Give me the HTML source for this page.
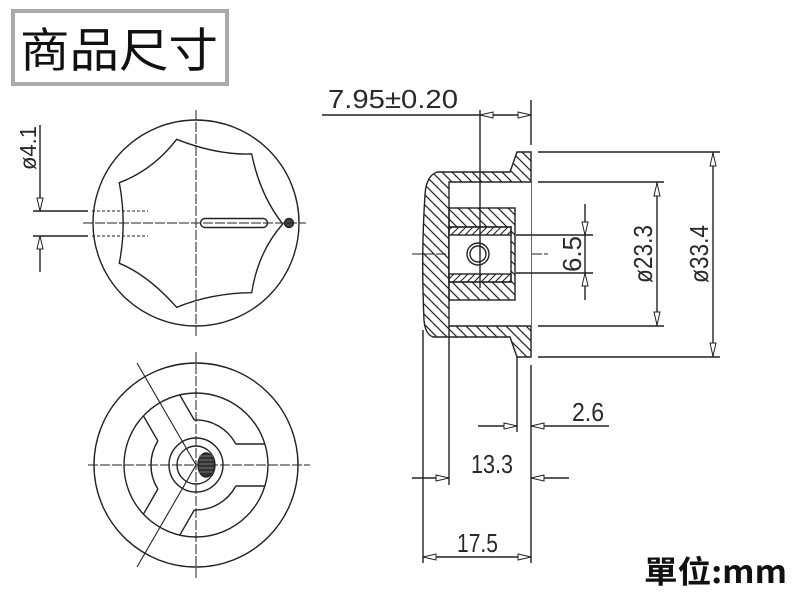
<!DOCTYPE html>
<html><head><meta charset="utf-8"><style>
html,body{margin:0;padding:0;background:#fff;}
svg{display:block;}
.t{font-family:"Liberation Sans",sans-serif;fill:#2a2a2a;}
</style></head><body>
<svg width="800" height="600" viewBox="0 0 800 600" xmlns="http://www.w3.org/2000/svg">
<defs>
<pattern id="h" patternUnits="userSpaceOnUse" width="10" height="10"><path d="M-2,-2 L12,12 M-2,8 L2,12 M8,-2 L12,2" stroke="#222" stroke-width="1.2"/></pattern>
<pattern id="h2" patternUnits="userSpaceOnUse" width="7" height="7"><path d="M-2,9 L9,-2 M-2,2 L2,-2 M5,9 L9,5" stroke="#222" stroke-width="1.1"/></pattern>
</defs>
<rect width="800" height="600" fill="#fff"/>
<rect x="13" y="11" width="214" height="73" fill="#fff" stroke="#aaa" stroke-width="4"/>
<text x="20" y="67" font-size="47" font-family="'Noto Sans CJK TC','Noto Sans CJK SC',sans-serif" fill="#111" textLength="198" lengthAdjust="spacingAndGlyphs">商品尺寸</text>
<text x="644" y="583" font-size="31" font-family="'Noto Sans CJK TC','Noto Sans CJK SC',sans-serif" font-weight="bold" fill="#111" textLength="143" lengthAdjust="spacingAndGlyphs">單位:mm</text>

<g fill="none" stroke="#222" stroke-width="1.4">
<circle cx="196" cy="223" r="103"/>
<path d="M176.7,139.3 Q216,155 251.7,154 Q260,195 282.7,224 Q258,252 251.7,292.7 Q212,293 176.7,307.3 Q148,275 119.3,263.3 Q127,223 119.3,182.7 Q153,170 176.7,139.3 Z"/>
<rect x="200.5" y="218.5" width="67" height="9" rx="4.5"/>
<circle cx="289" cy="223" r="4.5" fill="#444"/>
<g stroke-dasharray="10,2" stroke-width="1">
<line x1="196" y1="110" x2="196" y2="336"/>
<line x1="83" y1="223" x2="306" y2="223"/>
<line x1="196" y1="352" x2="196" y2="580"/>
<line x1="88" y1="465" x2="310" y2="465"/>
<line x1="412" y1="254" x2="548" y2="254"/>
<line x1="92" y1="211" x2="148" y2="211" stroke-dasharray="3,2"/>
<line x1="92" y1="236" x2="148" y2="236" stroke-dasharray="3,2"/>
</g>
<line x1="33" y1="211" x2="88" y2="211"/>
<line x1="33" y1="236" x2="88" y2="236"/>
<line x1="40" y1="125" x2="40" y2="211"/>
<line x1="40" y1="236" x2="40" y2="272"/>
<polygon points="40,211 37,198 43,198" fill="#fff" stroke-width="1"/>
<polygon points="40,236 37,249 43,249" fill="#fff" stroke-width="1"/>

<circle cx="196" cy="465" r="102"/>
<circle cx="196" cy="465" r="72"/>
<circle cx="196" cy="465" r="27"/>
<circle cx="196" cy="465" r="19"/>
<path d="M235.8,444 L264.9,444 M235.8,486 L264.9,486 M194.3,420 L179.7,394.8 M157.9,441 L143.4,415.8 M194.3,510 L179.7,535.2 M157.9,489 L143.4,514.2"/>
<path d="M235.8,444 A45,45 0 0 0 194.3,420 M157.9,441 A45,45 0 0 0 157.9,489 M194.3,510 A45,45 0 0 0 235.8,486"/>
<line x1="196" y1="465" x2="137" y2="363" stroke-width="1.1"/>
<line x1="196" y1="465" x2="137" y2="567" stroke-width="1.1"/>
<ellipse cx="206" cy="465" rx="8" ry="12" fill="#333"/>
<path d="M199,456 h14 M199,460 h15 M199,464 h15 M199,468 h15 M199,472 h14" stroke="#888" stroke-width="0.8"/>

<path d="M437,172 L510,172 L517,152 L531,152 L531,357 L517,357 L510,337 L433,337 Q425,334 424,320 Q421,254 425,195 Q426,176 437,172 Z" fill="url(#h)"/>
<rect x="449" y="182" width="82" height="144" fill="#fff" stroke="none"/>
<path d="M531,182 L449,182 L449,326 L531,326"/>
<rect x="449" y="208" width="66" height="92" fill="url(#h)"/>
<rect x="449" y="227" width="62" height="55" fill="#fff"/>
<rect x="449" y="227" width="62" height="8" fill="url(#h2)"/>
<rect x="449" y="274" width="62" height="8" fill="url(#h2)"/>
<circle cx="478" cy="254" r="11"/>
<circle cx="478" cy="254" r="8"/>
<line x1="531" y1="100" x2="531" y2="145"/>
<line x1="531" y1="365" x2="531" y2="563"/>
<line x1="480" y1="110" x2="480" y2="288"/>
<line x1="423" y1="330" x2="423" y2="563"/>
<line x1="449" y1="326" x2="449" y2="485"/>
<line x1="517" y1="357" x2="517" y2="432"/>

<line x1="322" y1="115" x2="531" y2="115"/>
<polygon points="480,115 493,112 493,118" fill="#fff" stroke-width="1"/>
<polygon points="531,115 518,112 518,118" fill="#fff" stroke-width="1"/>
<line x1="538" y1="182" x2="664" y2="182"/>
<line x1="538" y1="326" x2="664" y2="326"/>
<line x1="657" y1="182" x2="657" y2="326"/>
<polygon points="657,183 654,196 660,196" fill="#fff" stroke-width="1"/>
<polygon points="657,325 654,312 660,312" fill="#fff" stroke-width="1"/>
<line x1="538" y1="152" x2="720" y2="152"/>
<line x1="538" y1="357" x2="720" y2="357"/>
<line x1="713" y1="152" x2="713" y2="357"/>
<polygon points="713,153 710,166 716,166" fill="#fff" stroke-width="1"/>
<polygon points="713,356 710,343 716,343" fill="#fff" stroke-width="1"/>
<line x1="516" y1="235" x2="593" y2="235"/>
<line x1="516" y1="273" x2="593" y2="273"/>
<line x1="585" y1="204" x2="585" y2="300"/>
<polygon points="585,235 582,222 588,222" fill="#fff" stroke-width="1"/>
<polygon points="585,273 582,286 588,286" fill="#fff" stroke-width="1"/>
<line x1="478" y1="426" x2="517" y2="426"/>
<line x1="531" y1="426" x2="609" y2="426"/>
<polygon points="517,426 504,423 504,429" fill="#fff" stroke-width="1"/>
<polygon points="531,426 544,423 544,429" fill="#fff" stroke-width="1"/>
<line x1="412" y1="478" x2="449" y2="478"/>
<line x1="531" y1="478" x2="569" y2="478"/>
<polygon points="449,478 436,475 436,481" fill="#fff" stroke-width="1"/>
<polygon points="531,478 544,475 544,481" fill="#fff" stroke-width="1"/>
<line x1="423" y1="557" x2="531" y2="557"/>
<polygon points="423,557 436,554 436,560" fill="#fff" stroke-width="1"/>
<polygon points="531,557 518,554 518,560" fill="#fff" stroke-width="1"/>
</g>

<g class="t" font-size="26">
<text x="328" y="108" textLength="130" lengthAdjust="spacingAndGlyphs">7.95±0.20</text>
<text x="572" y="421" textLength="32" lengthAdjust="spacingAndGlyphs">2.6</text>
<text x="471" y="473" textLength="42" lengthAdjust="spacingAndGlyphs">13.3</text>
<text x="457" y="552" textLength="41" lengthAdjust="spacingAndGlyphs">17.5</text>
<text transform="translate(581,254) rotate(-90)" text-anchor="middle" textLength="36" lengthAdjust="spacingAndGlyphs" x="0" y="0">6.5</text>
<text transform="translate(652,254) rotate(-90)" text-anchor="middle" textLength="58" lengthAdjust="spacingAndGlyphs" x="0" y="0">ø23.3</text>
<text transform="translate(708,254) rotate(-90)" text-anchor="middle" textLength="58" lengthAdjust="spacingAndGlyphs" x="0" y="0">ø33.4</text>
<text transform="translate(36,148) rotate(-90)" text-anchor="middle" textLength="44" lengthAdjust="spacingAndGlyphs" x="0" y="0" font-size="23">ø4.1</text>
</g>
</svg>
</body></html>
